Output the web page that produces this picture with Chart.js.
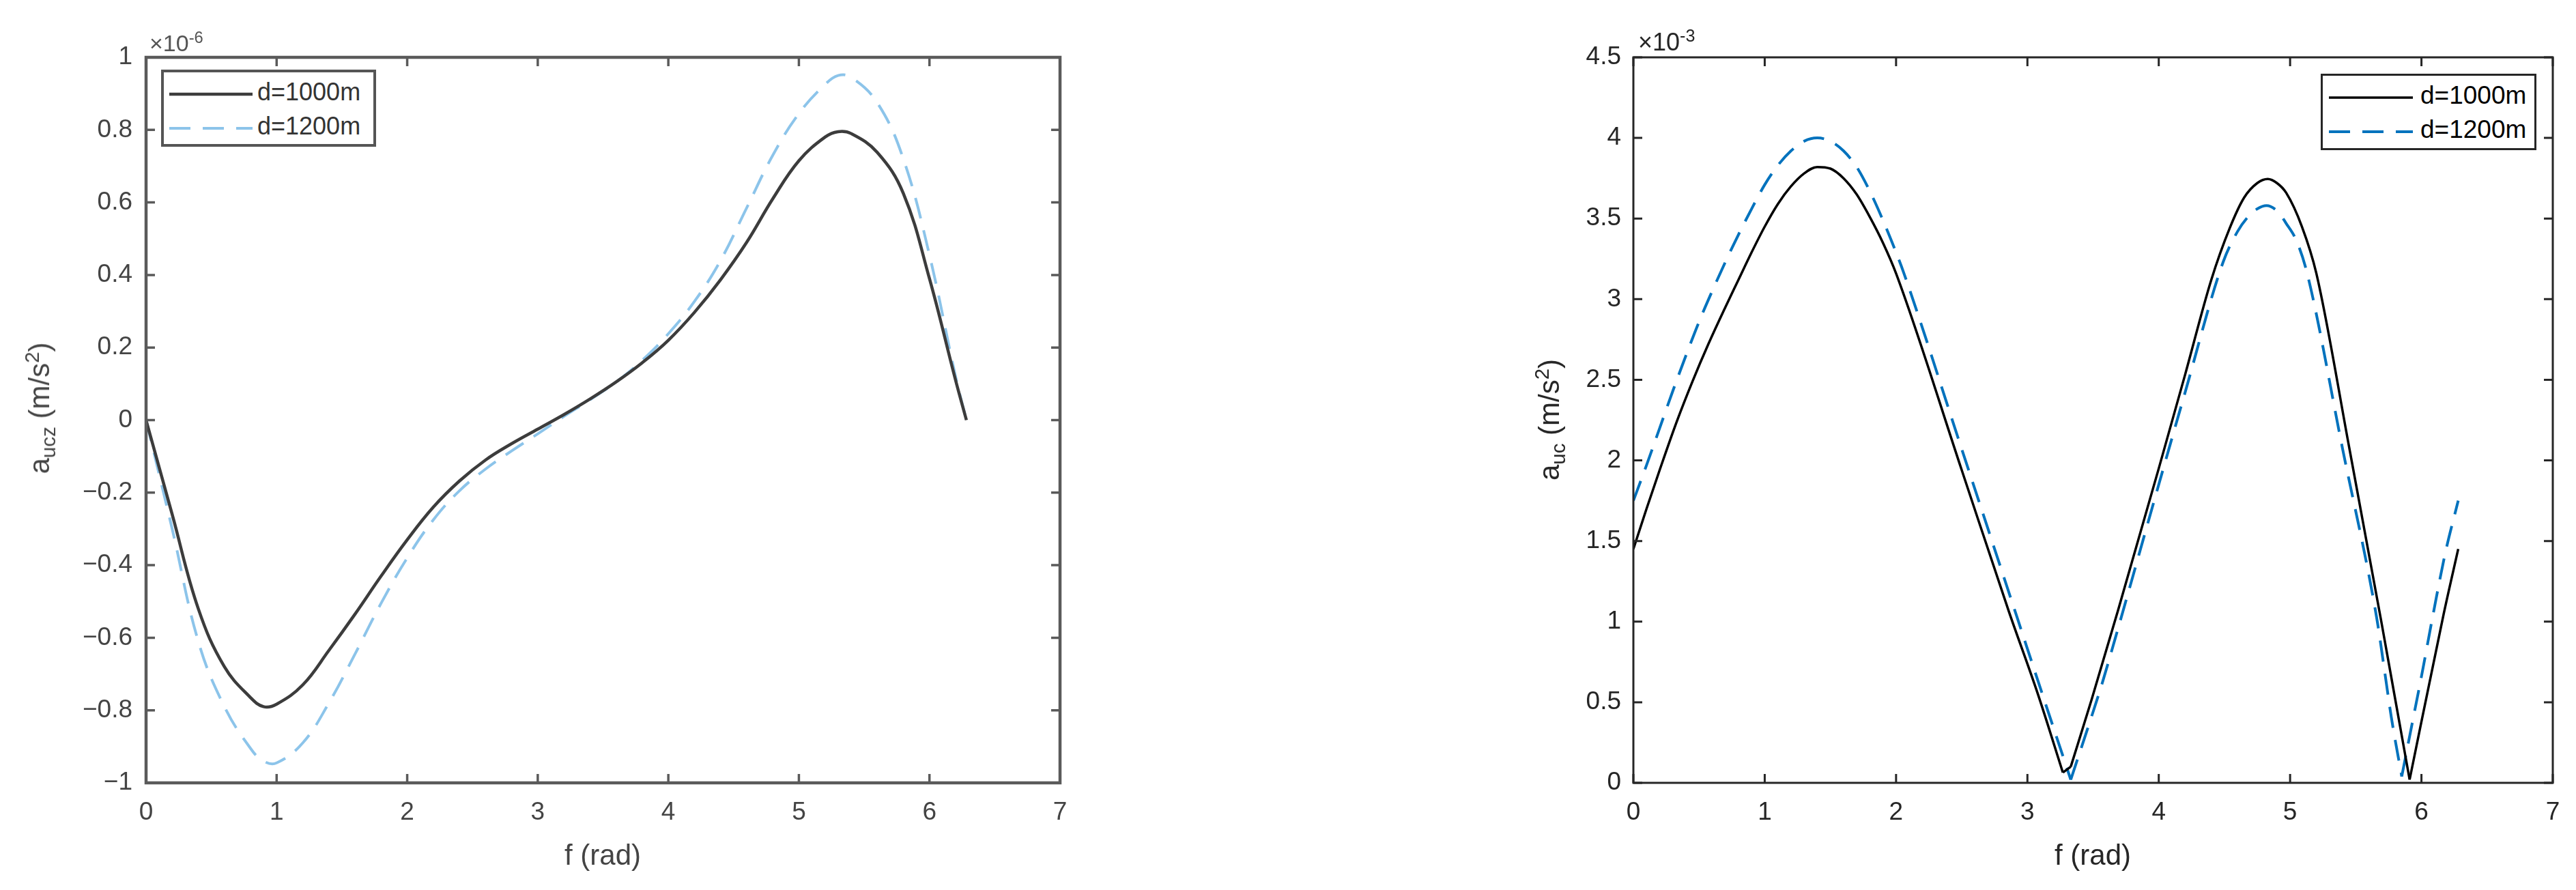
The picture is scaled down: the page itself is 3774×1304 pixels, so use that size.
<!DOCTYPE html>
<html>
<head>
<meta charset="utf-8">
<script src="https://cdn.jsdelivr.net/npm/chart.js@4.4.1/dist/chart.umd.min.js"></script>
<style>
  html, body { margin:0; padding:0; background:#fff; width:3774px; height:1304px; overflow:hidden; }
  body { position:relative; font-family:"Liberation Sans", Arial, Helvetica, sans-serif; }
  .pane { position:absolute; top:0; }
  .txt { position:absolute; white-space:nowrap; line-height:1; }
  .txt sub, .txt sup { font-size:70%; line-height:0; }
  .ylab { transform:translate(-50%,-50%) rotate(-90deg); }
  .xlab { transform:translate(-50%,-50%); }
  .legend { position:absolute; box-sizing:border-box; background:#fff; }
  .legend svg, .legend span { position:absolute; }
  .legend span { line-height:40px; height:40px; }
</style>
</head>
<body>

<div class="pane" style="left:0;width:1600px;height:1304px;"><canvas id="cLeft" width="1600" height="1304"></canvas></div>
<div class="pane" style="left:2200px;width:1574px;height:1304px;"><canvas id="cRight" width="1574" height="1304"></canvas></div>

<!-- left chart texts -->
<div class="txt ylab" style="left:58px;top:598px;font-size:42px;color:#444;">a<sub>ucz</sub> (m/s<sup>2</sup>)</div>
<div class="txt xlab" style="left:883px;top:1253px;font-size:42px;color:#444;">f (rad)</div>
<div class="txt" style="left:219px;top:46px;font-size:34px;color:#555;">×10<sup>-6</sup></div>
<div class="legend" style="left:236px;top:102px;width:315px;height:113px;border:4px solid #555;">
  <svg style="left:8px;top:28px" width="122" height="8"><line x1="0" y1="4" x2="122" y2="4" stroke="#3c3c3c" stroke-width="4.5"/></svg>
  <span style="left:137px;top:9px;font-size:36px;color:#333;">d=1000m</span>
  <svg style="left:8px;top:78px" width="122" height="8"><line x1="0" y1="4" x2="122" y2="4" stroke="#8cc4ea" stroke-width="4" stroke-dasharray="31 18"/></svg>
  <span style="left:137px;top:59px;font-size:36px;color:#333;">d=1200m</span>
</div>

<!-- right chart texts -->
<div class="txt ylab" style="left:2270px;top:615px;font-size:42px;color:#262626;">a<sub>uc</sub> (m/s<sup>2</sup>)</div>
<div class="txt xlab" style="left:3066px;top:1253px;font-size:42px;color:#262626;">f (rad)</div>
<div class="txt" style="left:2400px;top:44px;font-size:36px;color:#262626;">×10<sup>-3</sup></div>
<div class="legend" style="left:3400px;top:108px;width:316px;height:112px;border:3px solid #262626;">
  <svg style="left:9px;top:28px" width="123" height="8"><line x1="0" y1="4" x2="123" y2="4" stroke="#000" stroke-width="3.5"/></svg>
  <span style="left:143px;top:9px;font-size:37px;color:#000;">d=1000m</span>
  <svg style="left:9px;top:78px" width="123" height="8"><line x1="0" y1="4" x2="123" y2="4" stroke="#0072bd" stroke-width="4" stroke-dasharray="31 18"/></svg>
  <span style="left:143px;top:59px;font-size:37px;color:#000;">d=1200m</span>
</div>

<script>
// ---- left panel: a_ucz (x1e-6) ----
const leftF = [0,0.2,0.4,0.6,0.8,0.9,1.0,1.2,1.4,1.6,1.8,2.0,2.2,2.4,2.6,2.8,3.0,3.2,3.4,3.6,3.8,4.0,4.2,4.4,4.6,4.8,5.0,5.2,5.3,5.4,5.6,5.8,6.0,6.2,6.283];
const leftD1000 = [0,-0.26,-0.52,-0.68,-0.765,-0.79,-0.783,-0.73,-0.635,-0.535,-0.43,-0.33,-0.24,-0.168,-0.11,-0.065,-0.025,0.015,0.058,0.105,0.158,0.22,0.297,0.387,0.49,0.61,0.715,0.78,0.795,0.79,0.738,0.625,0.39,0.11,0];
const leftD1200 = [0,-0.30,-0.61,-0.79,-0.905,-0.94,-0.945,-0.89,-0.78,-0.645,-0.505,-0.38,-0.275,-0.195,-0.135,-0.085,-0.038,0.01,0.056,0.105,0.165,0.238,0.327,0.44,0.585,0.73,0.845,0.925,0.95,0.945,0.875,0.72,0.455,0.12,0];
const leftXTicks = [0,1,2,3,4,5,6,7];
const leftYTicks = [-1,-0.8,-0.6,-0.4,-0.2,0,0.2,0.4,0.6,0.8,1];
const leftYLabels = ['\u22121','\u22120.8','\u22120.6','\u22120.4','\u22120.2','0','0.2','0.4','0.6','0.8','1'];

// ---- right panel: a_uc (x1e-3) ----
const rightF1000 = [0,0.1,0.2,0.33,0.45,0.57,0.7,0.8,0.9,1.0,1.1,1.2,1.3,1.4,1.5,1.6,1.7,1.8,1.9,2.0,2.5,2.86,3.08,3.27,3.33,3.49,3.69,4.0,4.2,4.4,4.54,4.65,4.75,4.83,4.9,4.97,5.09,5.2,5.45,5.69,5.8,5.91,6.17,6.28];
const rightD1000 = [1.45,1.70,1.94,2.24,2.49,2.72,2.95,3.12,3.29,3.45,3.59,3.70,3.78,3.82,3.81,3.75,3.65,3.51,3.35,3.16,1.94,1.06,0.55,0.064,0.10,0.52,1.07,1.95,2.53,3.12,3.44,3.63,3.72,3.745,3.72,3.66,3.45,3.16,2.08,1.02,0.52,0.02,1.05,1.45];
const rightBreaks1000 = [3.27, 3.33, 5.91];   // corners of the |.| shaped curve
const rightF1200 = [0,0.1,0.2,0.3,0.4,0.5,0.6,0.7,0.8,0.9,1.0,1.1,1.2,1.3,1.4,1.5,1.6,1.7,1.8,1.9,2.0,2.06,2.5,2.92,3.13,3.33,3.46,3.57,3.67,4.0,4.2,4.49,4.6,4.69,4.75,4.82,4.91,4.97,5.05,5.13,5.4,5.66,5.72,5.77,5.85,5.92,6.0,6.09,6.18,6.28];
const rightD1200 = [1.75,1.97,2.20,2.43,2.65,2.86,3.05,3.23,3.40,3.56,3.71,3.83,3.92,3.98,4.00,3.98,3.92,3.82,3.67,3.49,3.29,3.16,2.07,1.03,0.51,0.02,0.34,0.62,0.90,1.85,2.42,3.23,3.42,3.52,3.56,3.58,3.54,3.47,3.36,3.16,2.07,1.02,0.69,0.41,0.04,0.33,0.66,1.05,1.42,1.75];
const rightBreaks1200 = [3.33, 5.85];
const rightXTicks = [0,1,2,3,4,5,6,7];
const rightYTicks = [0,0.5,1,1.5,2,2.5,3,3.5,4,4.5];
const rightYLabels = ['0','0.5','1','1.5','2','2.5','3','3.5','4','4.5'];

const FONT = '"Liberation Sans", Arial, Helvetica, sans-serif';
const pts = (xs, ys) => xs.map((x, i) => ({x: x, y: ys[i]}));

// split a series at its corner points so the smoothing keeps the V bottoms sharp
function splitAt(points, breaks) {
  const parts = [[]];
  points.forEach(p => {
    parts[parts.length - 1].push(p);
    if (breaks.includes(p.x)) parts.push([p]);
  });
  return parts.filter(a => a.length > 1);
}

// matlab style box with inward ticks on all four sides
const boxPlugin = {
  id: 'matlabBox',
  afterDatasetsDraw(chart, args, o) {
    const {ctx, chartArea: a, scales: {x, y}} = chart;
    const L = o.tickLen;
    ctx.save();
    ctx.strokeStyle = o.color;
    ctx.lineWidth = o.tickWidth;
    ctx.beginPath();
    x.ticks.forEach(t => {
      const p = x.getPixelForValue(t.value);
      ctx.moveTo(p, a.bottom); ctx.lineTo(p, a.bottom - L);
      ctx.moveTo(p, a.top); ctx.lineTo(p, a.top + L);
    });
    y.ticks.forEach(t => {
      const p = y.getPixelForValue(t.value);
      ctx.moveTo(a.left, p); ctx.lineTo(a.left + L, p);
      ctx.moveTo(a.right, p); ctx.lineTo(a.right - L, p);
    });
    ctx.stroke();
    ctx.lineWidth = o.width;
    ctx.strokeRect(a.left, a.top, a.right - a.left, a.bottom - a.top);
    ctx.restore();
  }
};

function makeChart(id, cfg) {
  return new Chart(document.getElementById(id), {
    type: 'line',
    data: {datasets: cfg.datasets},
    plugins: [boxPlugin],
    options: {
      responsive: false, animation: false, devicePixelRatio: 1,
      layout: {padding: {top: 84, right: cfg.padRight, left: 0, bottom: 0}},
      plugins: {legend: {display: false}, tooltip: {enabled: false},
        matlabBox: {color: cfg.axisColor, width: cfg.axisWidth, tickWidth: cfg.tickWidth, tickLen: 13}},
      scales: {
        x: {
          type: 'linear', min: 0, max: 7,
          afterBuildTicks: s => { s.ticks = cfg.xTicks.map(v => ({value: v})); },
          afterFit: s => { s.height = 157; },
          grid: {display: false, drawTicks: false}, border: {display: false},
          ticks: {color: cfg.textColor, padding: 22, font: {family: FONT, size: 37},
            maxRotation: 0, autoSkip: false, callback: v => String(v)}
        },
        y: {
          type: 'linear', min: cfg.yMin, max: cfg.yMax,
          afterBuildTicks: s => { s.ticks = cfg.yTicks.map(v => ({value: v})); },
          afterFit: s => { s.width = cfg.yWidth; },
          grid: {display: false, drawTicks: false}, border: {display: false},
          ticks: {color: cfg.textColor, padding: cfg.yPad, font: {family: FONT, size: 37},
            autoSkip: false, callback: (v, i) => cfg.yLabels[i]}
        }
      }
    }
  });
}

makeChart('cLeft', {
  datasets: [
    {label: 'd=1000m', data: pts(leftF, leftD1000), borderColor: '#3c3c3c', borderWidth: 4.5,
     pointRadius: 0, fill: false, tension: 0.4},
    {label: 'd=1200m', data: pts(leftF, leftD1200), borderColor: '#8cc4ea', borderWidth: 4,
     borderDash: [31, 18], pointRadius: 0, fill: false, tension: 0.4}
  ],
  padRight: 47, yWidth: 214, yPad: 20, yMin: -1, yMax: 1,
  xTicks: leftXTicks, yTicks: leftYTicks, yLabels: leftYLabels,
  textColor: '#444', axisColor: '#5a5a5a', axisWidth: 4.5, tickWidth: 3.5
});

const rightSets = [];
splitAt(pts(rightF1000, rightD1000), rightBreaks1000).forEach(seg => rightSets.push(
  {label: 'd=1000m', data: seg, borderColor: '#000', borderWidth: 3.5,
   pointRadius: 0, fill: false, cubicInterpolationMode: 'monotone'}));
splitAt(pts(rightF1200, rightD1200), rightBreaks1200).forEach(seg => rightSets.push(
  {label: 'd=1200m', data: seg, borderColor: '#0072bd', borderWidth: 4,
   borderDash: [31, 18], pointRadius: 0, fill: false, cubicInterpolationMode: 'monotone'}));

makeChart('cRight', {
  datasets: rightSets,
  padRight: 34, yWidth: 193, yPad: 18, yMin: 0, yMax: 4.5,
  xTicks: rightXTicks, yTicks: rightYTicks, yLabels: rightYLabels,
  textColor: '#262626', axisColor: '#262626', axisWidth: 3, tickWidth: 3
});
</script>
</body>
</html>
